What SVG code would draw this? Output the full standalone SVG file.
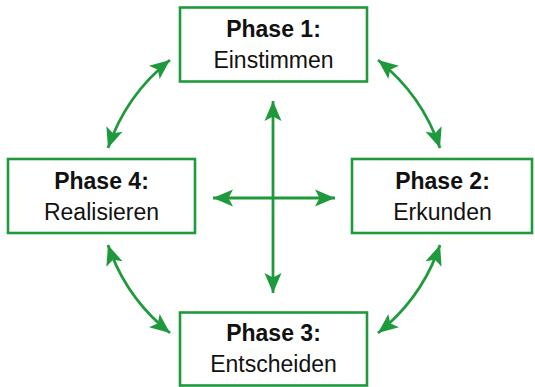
<svg xmlns="http://www.w3.org/2000/svg" width="535" height="387" viewBox="0 0 535 387">
  <style>
    .box { fill: #ffffff; stroke: #1e9a3c; stroke-width: 2.6; }
    .t { font-family: "Liberation Sans", Arial, sans-serif; font-size: 23px; fill: #111111; text-anchor: middle; }
    .b { font-weight: bold; }
    .c { fill: none; stroke: #1e9a3c; stroke-width: 2.8; marker-start: url(#ah); marker-end: url(#ah); }
  </style>
  <defs>
    <marker id="ah" markerUnits="userSpaceOnUse" viewBox="-22 -11 24 22" refX="0" refY="0" markerWidth="24" markerHeight="22" orient="auto-start-reverse">
      <path d="M0,0 L-20,-8.5 L-15.5,0 L-20,8.5 Z" fill="#1e9a3c"/>
    </marker>
  </defs>
  <rect width="535" height="387" fill="#ffffff"/>
  <g id="connectors">
    <path class="c" d="M108,148 Q126,95 170,60"/>
    <path class="c" d="M378,60 Q422,95 440,148"/>
    <path class="c" d="M440,245 Q422,298 378,333"/>
    <path class="c" d="M170,333 Q126,298 108,245"/>
    <path class="c" d="M273,101 L273,293"/>
    <path class="c" d="M213,198 L335,198"/>
  </g>
  <g id="phase1">
    <rect class="box" x="180" y="7.5" width="187" height="74"/>
    <text class="t b" x="273.5" y="36.5">Phase 1:</text>
    <text class="t" x="273.5" y="67.5">Einstimmen</text>
  </g>
  <g id="phase2">
    <rect class="box" x="352" y="159" width="180" height="74"/>
    <text class="t b" x="442.5" y="188.5">Phase 2:</text>
    <text class="t" x="442.5" y="219.5">Erkunden</text>
  </g>
  <g id="phase3">
    <rect class="box" x="180" y="312.5" width="187" height="73"/>
    <text class="t b" x="273.5" y="340.5">Phase 3:</text>
    <text class="t" x="273.5" y="371.5">Entscheiden</text>
  </g>
  <g id="phase4">
    <rect class="box" x="8" y="159" width="187" height="74"/>
    <text class="t b" x="101.5" y="188.5">Phase 4:</text>
    <text class="t" x="101.5" y="219.5">Realisieren</text>
  </g>
</svg>
